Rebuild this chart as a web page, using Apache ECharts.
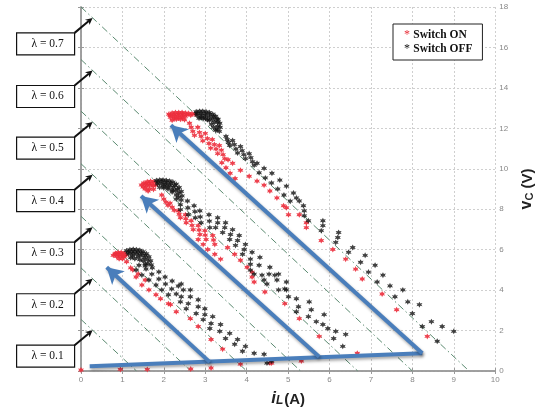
<!DOCTYPE html>
<html><head><meta charset="utf-8">
<script src="https://cdn.jsdelivr.net/npm/echarts@6/dist/echarts.min.js"></script>
<style>html,body{margin:0;padding:0;background:#fff}#c{width:543px;height:412px}</style>
</head><body><div id="c"></div>
<script>
// ---- tick labels ----
const xTickLabels = ['0','1','2','3','4','5','6','7','8','9','10'];
const yTickLabels = ['0','2','4','6','8','10','12','14','16','18'];

// ---- lambda lines: value at i=0 and i-intercept ----
const lambdaNames = ['λ = 0.1','λ = 0.2','λ = 0.3','λ = 0.4','λ = 0.5','λ = 0.6','λ = 0.7'];
const lambdaV0 = [2.55, 5.1, 7.65, 10.25, 12.85, 15.4, 18.0];
const lambdaI1 = [1.34, 2.65, 4.0, 5.3, 6.68, 8.0, 9.37];

// ---- "Switch ON" (red) samples ----
const onTop = [
 [2.12,12.7],[2.2,12.76],[2.28,12.78],[2.36,12.78],[2.44,12.78],[2.52,12.76],[2.6,12.74],[2.68,12.72],[2.76,12.7],
 [2.15,12.65],[2.25,12.68],[2.35,12.7],[2.45,12.7],[2.55,12.68],[2.65,12.65],[2.25,12.5],[2.35,12.52],[2.45,12.52],
 [2.16,12.55],[2.25,12.6],[2.34,12.62],[2.43,12.62],[2.52,12.6],[2.2,12.4],[2.3,12.45],[2.4,12.45],[2.5,12.42],
 [2.62,12.25],[2.66,12.05],[2.7,11.85],[2.74,11.65],
 [2.82,12.05],[2.86,11.8],[2.9,11.6],[2.94,11.38],
 [3.0,11.75],[3.05,11.5],[3.09,11.25],[3.13,11.02],
 [3.17,11.45],[3.22,11.2],[3.26,10.98],[3.3,10.75],
 [3.34,11.15],[3.39,10.92],[3.43,10.7],[3.47,10.5],
 [3.4,10.3],[3.5,10.05],[3.6,9.78],[3.72,9.52],
 [3.55,10.45],[3.66,10.27],[3.85,9.93],[4.06,9.63],[4.25,9.39],[4.42,9.19],[4.56,8.9],[4.73,8.56],[4.89,8.17],[5.01,7.73],
 [4.96,8.07],[5.27,7.73],[5.44,7.33],[5.44,7.09],[5.8,6.45],[6.08,6.01],[6.39,5.53],[6.63,5.04],[6.79,4.55],
 [7.27,3.81],[7.62,3.03],[8.36,1.71]
];
const onMid = [
 [1.46,9.2],[1.52,9.3],[1.6,9.36],[1.68,9.38],[1.76,9.36],[1.5,9.1],[1.58,9.15],[1.66,9.18],[1.74,9.15],
 [1.55,9.0],[1.65,9.0],[1.75,8.98],[1.62,8.9],[1.56,9.25],[1.64,9.28],[1.72,9.26],[1.8,9.2],
 [1.95,8.7],[2.0,8.5],[2.05,8.35],[2.1,8.2],[2.15,8.3],[2.2,8.1],[2.25,7.95],
 [2.35,7.92],[2.37,7.75],[2.4,7.58],[2.52,7.73],[2.53,7.53],[2.54,7.33],
 [2.66,7.43],[2.68,7.2],[2.71,6.99],[2.83,7.19],[2.85,6.97],[2.87,6.75],
 [2.99,6.94],[3.0,6.72],[3.02,6.5],[3.18,6.7],[3.2,6.48],[3.23,6.26],
 [2.83,6.5],[2.95,6.26],[3.06,6.01],[3.23,5.77],[3.37,5.53],
 [3.54,6.11],[3.71,5.77],[3.85,5.48],[4.01,5.13],[4.13,4.89],
 [4.13,4.65],[4.18,4.4],[4.44,3.91],[4.92,3.33],[5.27,2.59],[5.75,1.71],[6.67,0.88],[4.6,0.39],[5.32,0.49]
];
const onLow = [
 [0.78,5.72],[0.84,5.82],[0.9,5.86],[0.97,5.86],[1.04,5.82],[1.08,5.75],[0.86,5.66],[0.94,5.68],[1.02,5.65],
 [0.92,5.55],[1.0,5.55],[0.82,5.78],[0.9,5.76],[0.98,5.75],[1.06,5.68],
 [1.1,5.4],[1.2,5.1],[1.25,5.0],[1.33,4.65],[1.38,4.8],[1.47,4.25],[1.55,4.5],[1.64,4.01],[1.81,3.77],
 [1.92,3.57],[2.11,3.33],[2.16,3.28],[2.3,2.93],[2.64,2.59],[2.83,2.2],[3.14,1.56],[3.42,1.08],[4.56,0.39],
 [0.0,0.05],[0.95,0.08],[1.6,0.08],[2.65,0.1],[3.14,0.15],[3.85,0.34]
];

// ---- "Switch OFF" (black) samples ----
const offTop = [
 [2.78,12.82],[2.86,12.85],[2.94,12.85],[3.02,12.82],[3.1,12.78],[3.18,12.7],[3.25,12.6],[3.31,12.45],[3.35,12.25],
 [3.36,12.05],[3.34,11.85],[2.8,12.65],[2.9,12.65],[3.0,12.62],[3.1,12.55],[3.18,12.45],[3.22,12.3],
 [2.85,12.5],[2.95,12.48],[3.05,12.42],
 [2.8,12.75],[2.9,12.75],[3.0,12.72],[3.1,12.68],[3.2,12.58],[3.28,12.45],[3.3,12.3],[3.3,12.1],[3.28,11.95],
 [2.9,12.55],[3.0,12.5],[3.1,12.4],[3.15,12.2],[3.2,12.05],[3.25,11.9],
 [3.5,11.6],[3.53,11.45],[3.56,11.3],[3.59,11.15],
 [3.66,11.4],[3.7,11.2],[3.74,10.98],[3.78,10.78],
 [3.85,11.1],[3.89,10.9],[3.93,10.7],[3.97,10.5],
 [4.06,10.75],[4.1,10.55],[4.14,10.35],[4.18,10.17],
 [4.25,10.27],[4.42,10.02],[4.61,9.78],[4.8,9.44],[4.96,9.14],[5.13,8.8],
 [4.3,9.8],[4.45,9.55],[4.6,9.3],[4.75,9.0],[4.9,8.7],[5.05,8.4],
 [5.2,8.56],[5.27,8.41],[5.37,8.17],[5.39,7.92],[5.39,7.68],[5.49,7.43],
 [5.84,7.43],[5.84,7.19],[5.8,6.94],[6.22,6.85],[6.2,6.6],[6.15,6.36],[6.56,6.11],[6.46,5.87],
 [6.86,5.72],[6.75,5.38],[7.1,5.23],[6.94,4.89],[7.29,4.74],[7.15,4.4],[7.46,4.21],[7.77,4.01],
 [7.58,3.67],[7.89,3.42],[8.17,3.28],[8.0,2.84],[8.46,2.44],[8.24,2.2],[8.72,2.2],[9.0,1.96],[8.6,1.47]
];
const offMid = [
 [1.82,9.42],[1.9,9.45],[1.98,9.45],[2.06,9.42],[2.14,9.4],[2.22,9.34],[2.3,9.24],[2.37,9.08],[2.42,8.88],
 [2.44,8.66],[2.42,8.45],[1.85,9.25],[1.95,9.25],[2.05,9.22],[2.15,9.18],[2.23,9.08],[2.28,8.92],[1.9,9.08],[2.0,9.05],
 [1.86,9.35],[1.96,9.36],[2.06,9.32],[2.16,9.28],[2.26,9.18],[2.33,9.0],[2.36,8.8],[2.36,8.6],[2.1,9.0],[2.2,8.85],
 [2.0,9.15],[2.1,9.1],[2.2,8.95],[2.3,8.7],[2.3,8.5],
 [2.4,8.22],[2.4,7.98],[2.57,8.41],[2.58,8.07],[2.59,7.73],
 [2.73,8.17],[2.75,7.88],[2.76,7.58],[2.87,7.92],[2.88,7.62],[2.9,7.33],[3.09,7.73],[3.1,7.41],[3.11,7.09],
 [3.3,7.58],[3.3,7.33],[3.25,7.09],[3.49,7.33],[3.47,7.09],[3.42,6.85],[3.66,6.99],[3.61,6.75],[3.59,6.5],
 [3.82,6.7],[3.78,6.45],[3.73,6.21],[3.97,6.26],[3.94,6.01],[3.9,5.77],[4.13,5.87],[4.09,5.53],
 [4.32,5.62],[4.3,5.23],[4.56,5.13],[4.54,4.79],[4.77,4.79],[4.73,4.5],[4.96,4.4],[4.92,4.06],
 [4.09,5.28],[4.09,4.99],[4.18,4.79],[4.37,4.74],[4.42,4.5],[4.49,4.3],[4.68,4.74],[4.77,4.01],
 [4.96,4.01],[5.01,3.67],[5.2,3.57],[5.25,3.18],[5.2,2.93],[5.51,3.42],[5.56,3.03],[5.49,2.69],
 [5.68,2.44],[5.87,2.79],[5.84,2.3],[5.96,2.1],[6.15,1.96],[6.1,1.61],[6.32,1.22],[6.39,1.81],[4.49,0.39]
];
const offLow = [
 [1.1,5.95],[1.18,6.0],[1.26,6.02],[1.34,6.0],[1.42,5.97],[1.5,5.9],[1.58,5.8],[1.64,5.65],[1.68,5.45],[1.7,5.25],
 [1.15,5.78],[1.25,5.8],[1.35,5.78],[1.45,5.72],[1.53,5.6],[1.3,5.55],[1.42,5.5],[1.2,5.6],
 [1.14,5.88],[1.22,5.9],[1.3,5.9],[1.38,5.88],[1.46,5.82],[1.55,5.72],[1.6,5.5],[1.62,5.3],
 [1.25,5.68],[1.38,5.65],[1.5,5.45],[1.55,5.2],
 [1.4,5.23],[1.57,5.04],[1.71,4.79],[1.88,4.55],[2.04,4.3],[2.19,4.06],[2.3,3.81],
 [1.33,4.99],[1.47,4.74],[1.64,4.5],[1.81,4.25],[1.95,4.01],[2.11,3.77],
 [1.55,5.3],[1.72,5.1],[1.88,4.9],[2.03,4.65],[2.2,4.45],[2.35,4.2],
 [2.42,4.3],[2.47,4.01],[2.42,3.67],[2.4,3.42],[2.64,4.01],[2.64,3.67],[2.59,3.33],[2.54,3.08],
 [2.83,3.52],[2.83,3.18],[2.78,2.84],[2.99,3.08],[2.99,2.79],[2.95,2.54],[3.18,2.69],[3.14,2.35],[3.11,2.1],
 [3.37,2.3],[3.35,1.96],[3.59,1.86],[3.49,1.61],[3.78,1.56],[3.71,1.32],[3.97,1.22],[3.9,0.98],
 [4.18,0.88],[4.42,0.83],[4.6,0.49]
];

// ---- blue annotation arrows [tail, head] ----
const blueBase = [[0.21,0.24],[8.24,0.88]];
const blueArrows = [
 [[3.11,0.44],[0.62,5.13]],
 [[5.75,0.71],[1.45,8.65]],
 [[8.24,0.88],[2.17,12.15]]
];
const lambdaArrowI = 0.28;

const chart = echarts.init(document.getElementById('c'), null, {renderer:'canvas'});
const star = 'path://M5,0L6.6,3L10,2.4L8.1,5L10,7.6L6.6,7L5,10L3.4,7L0,7.6L1.9,5L0,2.4L3.4,3Z';
const gray = '#9a9a9a';

const lambdaSeries = lambdaV0.map((v0, k) => ({
  type:'line', silent:true, showSymbol:false, symbol:'none', z:1,
  data:[[0, v0],[lambdaI1[k], 0]],
  lineStyle:{color:'#5b8a70', width:1, type:[7,3,1.5,3]}
}));

const markData = [[{coord:blueBase[0], symbol:'none'},{coord:blueBase[1], symbol:'none'}]]
  .concat(blueArrows.map(a => [{coord:a[0], symbol:'none'},{coord:a[1], symbol:'arrow'}]));

chart.setOption({
  animation:false,
  backgroundColor:'#fff',
  grid:{left:81, right:41, top:7, bottom:37},
  legend:{
    data:['Switch ON','Switch OFF'], orient:'vertical', left:393, top:24,
    icon:'none', itemWidth:0, itemHeight:10, itemGap:2,
    padding:[5,10,5,6], borderColor:'#222', borderWidth:1, backgroundColor:'#fff',
    formatter: n => n === 'Switch ON' ? '{r|*} {t|Switch ON}' : '{k|*} {t|Switch OFF}',
    textStyle:{rich:{
      r:{color:'#e8303a', fontSize:12, fontFamily:'Liberation Serif'},
      k:{color:'#111', fontSize:12, fontFamily:'Liberation Serif'},
      t:{color:'#111', fontSize:11.5, fontWeight:'bold', fontFamily:'Liberation Serif'}
    }}
  },
  xAxis:[{
    type:'value', min:0, max:10, interval:1, position:'bottom',
    axisLine:{lineStyle:{color:gray, width:1.5}},
    axisTick:{inside:true, length:3, lineStyle:{color:gray}},
    axisLabel:{color:'#888', fontSize:8, margin:5, fontFamily:'Liberation Sans', formatter:(v,i)=>xTickLabels[i]},
    splitLine:{show:true, lineStyle:{color:'#cfcfcf', type:[2,2]}},
    name:'{i|i}{s|L}{a|(A)}', nameLocation:'middle', nameGap:16,
    nameTextStyle:{rich:{
      i:{fontSize:17, fontStyle:'italic', fontWeight:'bold', fontFamily:'Liberation Sans', color:'#222', verticalAlign:'bottom', lineHeight:20},
      s:{fontSize:12, fontStyle:'italic', fontWeight:'bold', fontFamily:'Liberation Sans', color:'#222', verticalAlign:'bottom', lineHeight:14, padding:[0,1,0,0]},
      a:{fontSize:15, fontWeight:'bold', fontFamily:'Liberation Sans', color:'#222', verticalAlign:'bottom', lineHeight:20}
    }}
  },{
    type:'value', min:0, max:10, interval:1, position:'top',
    axisLine:{show:true, lineStyle:{color:gray, width:1.5}},
    axisTick:{show:true, inside:true, length:3, lineStyle:{color:gray}},
    axisLabel:{show:false}, splitLine:{show:false}
  }],
  yAxis:[{
    type:'value', min:0, max:18, interval:2, position:'right',
    axisLine:{show:true, lineStyle:{color:gray, width:1.5}},
    axisTick:{show:true, inside:true, length:3, lineStyle:{color:gray}},
    axisLabel:{color:'#888', fontSize:8, margin:4, fontFamily:'Liberation Sans', formatter:(v,i)=>yTickLabels[i]},
    splitLine:{show:true, lineStyle:{color:'#cfcfcf', type:[2,2]}},
    name:'{v|v}{c|C}{u| (V)}', nameLocation:'middle', nameGap:20, nameRotate:90,
    nameTextStyle:{rich:{
      v:{fontSize:16, fontWeight:'bold', fontFamily:'Liberation Sans', color:'#222', verticalAlign:'bottom', lineHeight:18},
      c:{fontSize:11, fontWeight:'bold', fontFamily:'Liberation Sans', color:'#222', verticalAlign:'bottom', lineHeight:12},
      u:{fontSize:15, fontWeight:'bold', fontFamily:'Liberation Sans', color:'#222', verticalAlign:'bottom', lineHeight:18}
    }}
  },{
    type:'value', min:0, max:18, interval:2, position:'left',
    axisLine:{show:true, lineStyle:{color:gray, width:1.5}},
    axisTick:{show:true, inside:true, length:3, lineStyle:{color:gray}},
    axisLabel:{show:false}, splitLine:{show:false}
  }],
  series: lambdaSeries.concat([
    {name:'Switch ON', type:'scatter', symbol:star, symbolSize:6, z:3,
     itemStyle:{color:'#ec2e3c', opacity:0.9},
     data: onTop.concat(onMid, onLow)},
    {name:'Switch OFF', type:'scatter', symbol:star, symbolSize:6, z:4,
     itemStyle:{color:'#111'},
     data: offTop.concat(offMid, offLow)},
    {type:'scatter', data:[], z:6, silent:true,
     markLine:{silent:true, animation:false, symbolSize:[14,16], label:{show:false},
       lineStyle:{color:'#4a7ebb', width:4, type:'solid', shadowBlur:3, shadowColor:'rgba(0,0,0,0.35)', shadowOffsetX:1, shadowOffsetY:2},
       emphasis:{disabled:true},
       data: markData}}
  ])
});

// lambda label boxes with arrows pointing at each line
const g = [];
lambdaV0.forEach((v0, k) => {
  const vAt = v0 - v0 / lambdaI1[k] * lambdaArrowI;
  const tip = chart.convertToPixel({xAxisIndex:0, yAxisIndex:0}, [lambdaArrowI, vAt]);
  const sx = tip[0] - 18, sy = tip[1] + 15;
  const bx = sx - 58, by = sy;
  g.push({type:'rect', shape:{x:bx, y:by, width:58, height:22}, style:{fill:'#fff', stroke:'#111', lineWidth:1.2}, z:10});
  g.push({type:'text', x:bx + 31, y:by + 11, style:{text:lambdaNames[k], fontFamily:'Liberation Serif', fontSize:11.5, fill:'#111', align:'center', verticalAlign:'middle'}, z:11});
  const dx = tip[0] - sx, dy = tip[1] - sy, L = Math.hypot(dx, dy), ux = dx / L, uy = dy / L;
  const hl = 7, hw = 3.5;
  const bxp = tip[0] - ux * hl, byp = tip[1] - uy * hl;
  g.push({type:'line', shape:{x1:sx, y1:sy, x2:bxp + ux * 2, y2:byp + uy * 2}, style:{stroke:'#111', lineWidth:2}, z:10});
  g.push({type:'polygon', shape:{points:[[tip[0], tip[1]], [bxp - uy * hw, byp + ux * hw], [bxp + ux * 2, byp + uy * 2], [bxp + uy * hw, byp - ux * hw]]}, style:{fill:'#111'}, z:10});
});
chart.setOption({graphic: g});
</script>
</body></html>
